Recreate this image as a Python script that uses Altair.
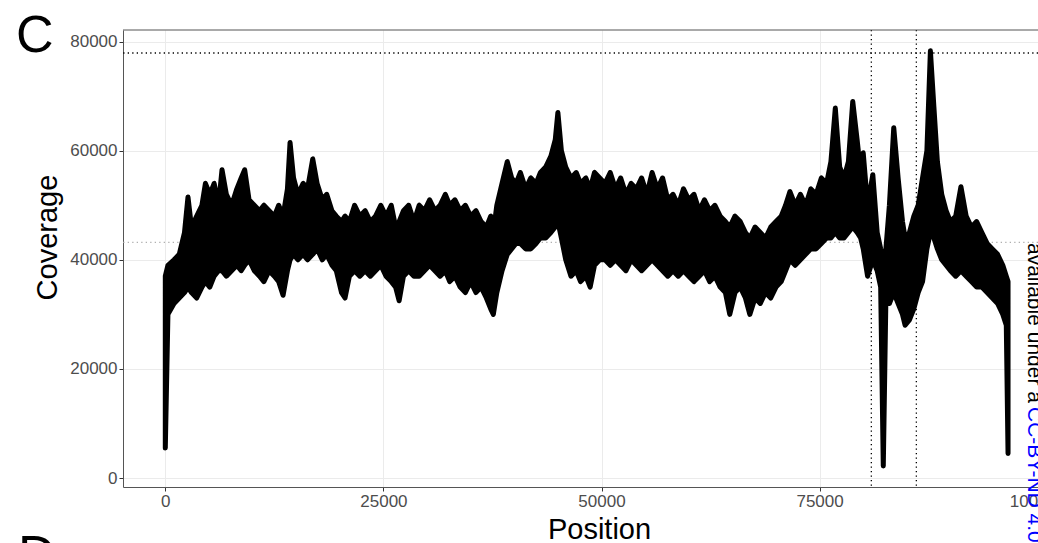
import altair as alt
import pandas as pd

# ---- data (position in bp, coverage envelope) ----
pos = [0, 300, 1000, 1600, 2200, 2600, 3000, 3600, 4200, 4600, 5100, 5600, 6100, 6500, 7000, 7600,
       8200, 8700, 9100, 9600, 10200, 10800, 11300, 11900, 12500, 13000, 13500, 14000, 14300, 14700,
       15200, 15800, 16300, 16900, 17400, 18000, 18500, 19100, 19600, 20200, 20600, 21100, 21700,
       22300, 22900, 23500, 24100, 24700, 25300, 25900, 26400, 26800, 27300, 27900, 28500, 29100,
       29700, 30300, 30900, 31500, 32100, 32600, 33200, 33800, 34400, 35000, 35600, 36200, 36800,
       37300, 37600, 38000, 38600, 39200, 39700, 40200, 40700, 41300, 41900, 42500, 43000, 43600,
       44200, 44700, 45000, 45400, 45900, 46500, 47100, 47600, 48200, 48700, 49200, 49800, 50400,
       51000, 51600, 52200, 52800, 53400, 54000, 54600, 55200, 55800, 56400, 57000, 57600, 58200,
       58800, 59400, 60000, 60600, 61200, 61800, 62400, 63000, 63600, 64200, 64700, 65300, 65900,
       66500, 67000, 67600, 68200, 68800, 69400, 70000, 70600, 71100, 71600, 72200, 72800, 73400,
       74000, 74600, 75200, 75800, 76300, 76800, 77300, 77800, 78300, 78800, 79300, 79700, 80000,
       80500, 81100, 81600, 82000, 82300, 82600, 83000, 83500, 84000, 84500, 84800, 85300, 85800,
       86300, 86800, 87300, 87700, 88100, 88500, 89000, 89500, 90000, 90600, 91200, 91800, 92400,
       93000, 93600, 94200, 94800, 95400, 96000, 96400, 96600]
cov_hi = [37, 39, 40, 41, 45, 51.5, 46, 48, 50, 54, 52, 54, 50, 56.5, 52, 50,
          53, 55, 56.5, 51, 50, 49, 50, 49, 48, 50, 48, 53, 61.5, 55,
          52, 54, 53, 58.5, 54, 51, 52, 49, 48, 47, 48, 47, 50,
          48, 49, 47, 48, 50, 48, 50, 46, 47, 49, 50, 47, 50,
          49, 51, 49, 50, 52, 50, 51, 49, 50, 48, 49, 47, 46,
          48, 45, 50, 54, 58, 55, 54, 56, 53, 55, 54, 56, 57,
          59, 62, 67, 60, 57, 55, 56, 54, 55, 53, 56, 55, 54,
          56, 53, 55, 52, 54, 53, 55, 52, 56, 53, 55, 51, 52,
          50, 53, 51, 52, 49, 51, 49, 50, 48, 47, 46, 48, 47,
          45, 44, 46, 45, 44, 46, 47, 48, 50, 52.5, 50, 52, 50,
          53, 52, 55, 54, 58, 67.8, 57, 55, 58, 69, 62, 56, 59.6,
          50, 55.6, 45, 42, 40, 42, 50, 64.2, 55, 47, 44, 45, 48,
          50, 55, 60, 78.3, 68, 58, 52, 49, 47, 48, 53.4, 48, 46,
          47, 45, 43, 42, 41, 39, 37, 36]
cov_lo = [5.5, 30, 32, 33, 34, 35, 34, 33, 35, 36, 35, 37, 38, 38, 37, 38,
          39, 38, 39, 40, 38, 37, 36, 38, 37, 36, 33.5, 38, 40, 41,
          40, 41, 40, 41, 42, 40, 41, 39, 38, 34, 33, 37, 38,
          37, 38, 37, 38, 39, 37, 36, 35, 32.5, 37, 38, 37, 37,
          38, 39, 38, 37, 38, 36, 37, 35, 34, 36, 34, 35, 33,
          31, 30, 34, 38, 41, 42, 43, 43, 42, 42, 43, 44, 44,
          45, 46, 47, 44, 40, 37, 38, 36, 37, 35, 39, 40, 40,
          39, 40, 39, 38, 40, 39, 38, 39, 40, 39, 38, 37, 38,
          37, 38, 37, 36, 37, 38, 36, 37, 35, 34, 30, 34, 35,
          33, 30, 33, 32, 34, 33, 35, 36, 38, 40, 39, 40, 41,
          42, 42, 43, 44, 44, 45, 44, 44, 45, 46, 45, 44, 42,
          37, 40, 38, 35, 2.2, 33, 32, 34, 32, 30, 28, 29, 31,
          34, 36, 42, 45, 44, 42, 40, 39, 38, 37, 38, 37, 36,
          35, 35, 34, 33, 32, 30, 28, 4.5]

mean_coverage = 43180
max_coverage = 77900
region_bounds = [80930, 86090]

x_ticks = [0, 25000, 50000, 75000, 100000]
y_ticks = [0, 20000, 40000, 60000, 80000]

df = pd.DataFrame({
    "Position": pos,
    "hi": [v * 1000 for v in cov_hi],
    "lo": [v * 1000 for v in cov_lo],
})

W, H = 915, 457
xscale = alt.Scale(domain=[-4849, 100034], nice=False, zero=False)
yscale = alt.Scale(domain=[-1635, 82112], nice=False, zero=False)

FONT = "Liberation Sans"

base_x = alt.X("Position:Q", scale=xscale, axis=alt.Axis(
    values=x_ticks, format="d", grid=True, gridColor="#ebebeb", gridWidth=1,
    domainColor="#555555", domainWidth=1, tickColor="#333333", tickSize=4,
    labelFontSize=17, labelColor="#4d4d4d", labelPadding=2, labelFlush=False,
    labelOverlap=False, title="Position", titleFontSize=29, titleFontWeight="normal",
    titleColor="black", titleX=476, titleY=51, titleAlign="center",
    titleBaseline="alphabetic"))
base_y = alt.Y("lo:Q", scale=yscale, axis=alt.Axis(
    values=y_ticks, format="d", grid=True, gridColor="#ebebeb", gridWidth=1,
    domainColor="#555555", domainWidth=1, tickColor="#333333", tickSize=4,
    labelFontSize=17, labelColor="#4d4d4d", labelPadding=2,
    title="Coverage", titleFontSize=29, titleFontWeight="normal", titleColor="black",
    titleAngle=270, titleX=-67, titleY=207, titleAlign="center",
    titleBaseline="alphabetic"))

band = alt.Chart(df).mark_area(
    color="black", stroke="black", strokeWidth=5, strokeJoin="round", opacity=1
).encode(x=base_x, y=base_y, y2="hi:Q")

hl_df = pd.DataFrame({"y": [max_coverage, mean_coverage], "kind": ["max", "mean"]})
hline_max = alt.Chart(hl_df[hl_df.kind == "max"]).mark_rule(
    color="black", strokeWidth=1.3, strokeDash=[1.3, 3.2]
).encode(y=alt.Y("y:Q", scale=yscale))
hline_mean = alt.Chart(hl_df[hl_df.kind == "mean"]).mark_rule(
    color="#b0b0b0", strokeWidth=1.3, strokeDash=[1.3, 3.2]
).encode(y=alt.Y("y:Q", scale=yscale))
vlines = alt.Chart(pd.DataFrame({"x": region_bounds})).mark_rule(
    color="black", strokeWidth=1.3, strokeDash=[1.3, 3.2]
).encode(x=alt.X("x:Q", scale=xscale))

one = alt.Data(values=[{}])
top_border = alt.Chart(one).mark_rule(color="#555555", strokeWidth=1).encode(
    y=alt.value(0), x=alt.value(0), x2=alt.value(W))

label_c = alt.Chart(one).mark_text(
    text="C", font=FONT, fontSize=52, align="left", baseline="alphabetic", color="black"
).encode(x=alt.value(-107), y=alt.value(22))
label_d = alt.Chart(one).mark_text(
    text="D", font=FONT, fontSize=52, align="left", baseline="alphabetic", color="black"
).encode(x=alt.value(-105), y=alt.value(542))

lic1 = alt.Chart(one).mark_text(
    text="available under a", font=FONT, fontSize=21, align="left",
    baseline="alphabetic", angle=90, color="black"
).encode(x=alt.value(905), y=alt.value(213))
lic2 = alt.Chart(one).mark_text(
    text="CC-BY-ND 4.0", font=FONT, fontSize=21, align="left",
    baseline="alphabetic", angle=90, color="#0000ff"
).encode(x=alt.value(905), y=alt.value(377))

chart = alt.layer(
    hline_mean, hline_max, vlines, band, top_border, label_c, label_d, lic1, lic2
).properties(
    width=W, height=H, autosize="none",
    padding={"left": 123, "top": 30, "right": 0, "bottom": 56},
).configure(font=FONT).configure_view(stroke=None)

chart.save("out.html", embed_options={"renderer": "svg", "actions": False})
